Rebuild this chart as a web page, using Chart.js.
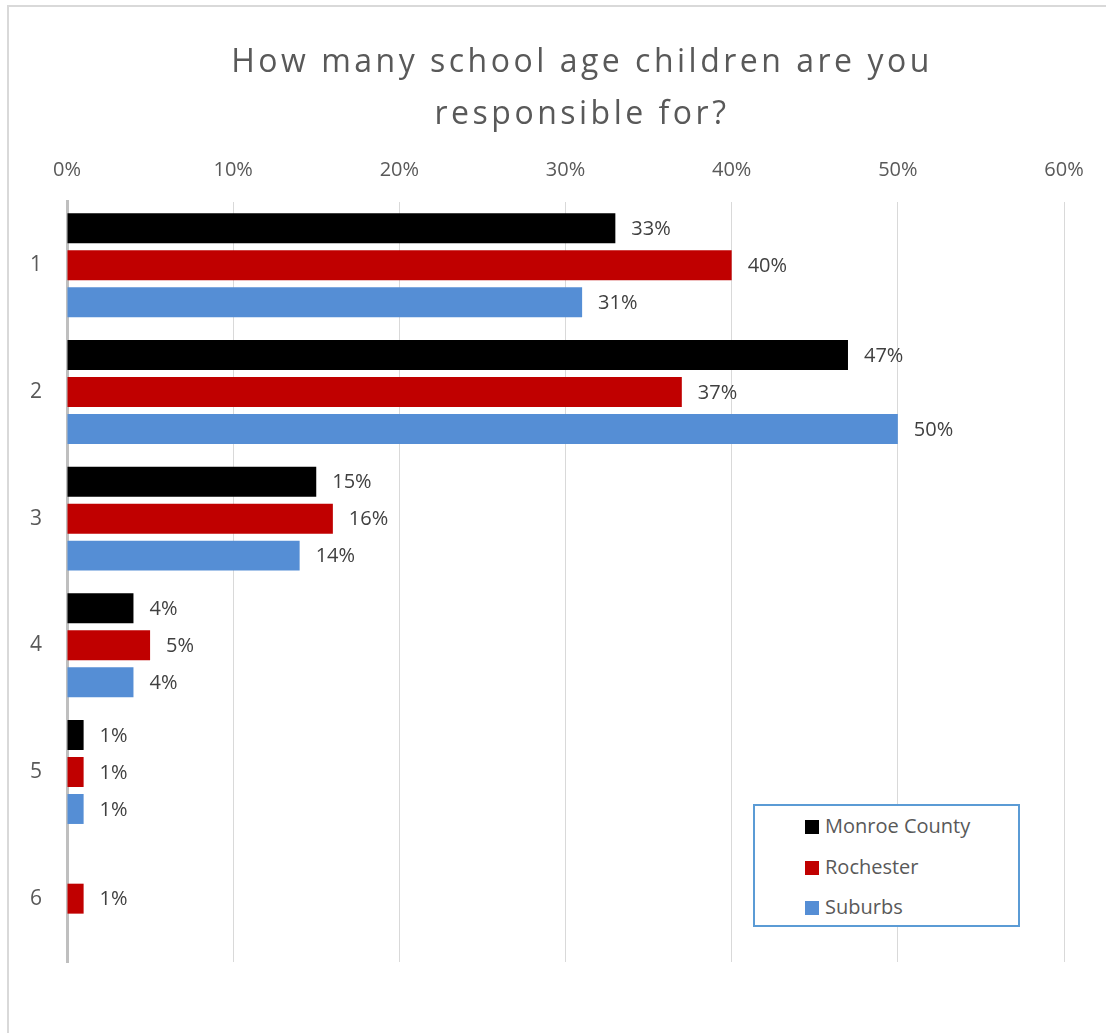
<!DOCTYPE html>
<html>
<head>
<meta charset="utf-8">
<script src="https://cdn.jsdelivr.net/npm/chart.js@4/dist/chart.umd.min.js"></script>
<style>
  html, body { margin: 0; padding: 0; background: #fff; overflow: hidden; }
  body { width: 1106px; height: 1033px; position: relative; font-family: 'Open Sans', sans-serif; }
  #frame { position: absolute; left: 7px; top: 5px; width: 1200px; height: 1100px;
           border-left: 2px solid #d9d9d9; border-top: 2px solid #d9d9d9; }
  #wrap { position: absolute; left: 0; top: 0; width: 1160px; height: 1033px; }
  #legend { position: absolute; left: 753px; top: 804px; width: 263px; height: 119px;
            border: 2px solid #5b9bd5; background: #fff; }
  #legend div { position: absolute; left: 50px; height: 24px; line-height: 24px;
                font-size: 20px; color: #595959; white-space: nowrap; }
  #legend span { display: inline-block; width: 14px; height: 14px; margin-right: 6px;
                 vertical-align: -1px; }
</style>
</head>
<body>
<div id="frame"></div>
<div id="wrap"><canvas id="kidsChart"></canvas></div>
<div id="legend"></div>
<script>
// survey answers, share of respondents (%)
const categories = ['1', '2', '3', '4', '5', '6'];
const seriesNames = ['Monroe County', 'Rochester', 'Suburbs'];
const monroeCounty = [33, 47, 15, 4, 1, null];
const rochester = [40, 37, 16, 5, 1, 1];
const suburbs = [31, 50, 14, 4, 1, null];
const tickLabels = ['0%', '10%', '20%', '30%', '40%', '50%', '60%'];
const titleLines = ['How many school age children are you', 'responsible for?'];
const colors = ['#000000', '#c00000', '#558ed5'];

const textColor = '#595959';
const font = "'Open Sans', sans-serif";

// draws the value next to the end of each bar
const barLabels = {
    id: 'barLabels',
    afterDatasetsDraw(chart) {
        const ctx = chart.ctx;
        ctx.save();
        ctx.font = '20px ' + font;
        ctx.fillStyle = '#404040';
        ctx.textAlign = 'left';
        ctx.textBaseline = 'middle';
        chart.data.datasets.forEach((ds, i) => {
            chart.getDatasetMeta(i).data.forEach((bar, j) => {
                if (ds.data[j] == null) return;
                ctx.fillText(ds.data[j] + '%', bar.x + 16, bar.y + 1);
            });
        });
        ctx.restore();
    }
};

// the built-in title only keeps the space, this one draws it with wider letter spacing
const spacedTitle = {
    id: 'spacedTitle',
    afterDraw(chart) {
        const ctx = chart.ctx;
        const tb = chart.titleBlock;
        const lh = 52;
        ctx.save();
        ctx.font = '32px ' + font;
        ctx.fillStyle = textColor;
        ctx.textAlign = 'center';
        ctx.textBaseline = 'middle';
        ctx.letterSpacing = '3.5px';
        titleLines.forEach((line, i) => {
            ctx.fillText(line, chart.width / 2 + 2, tb.top + 37 + lh / 2 + i * lh);
        });
        ctx.restore();
    }
};

function drawChart() {
    const ctx = document.getElementById('kidsChart').getContext('2d');
    const values = [monroeCounty, rochester, suburbs];

    new Chart(ctx, {
        type: 'bar',
        data: {
            labels: categories,
            datasets: seriesNames.map((name, i) => ({
                label: name,
                data: values[i],
                backgroundColor: colors[i],
                borderWidth: 0,
                categoryPercentage: 0.876,
                barPercentage: 0.81,
            })),
        },
        options: {
            indexAxis: 'y',
            responsive: false,
            animation: false,
            layout: { padding: { top: 0, left: 0, right: 96, bottom: 71 } },
            plugins: {
                legend: { display: false },
                tooltip: { enabled: false },
                title: {
                    display: true,
                    text: titleLines,
                    color: 'rgba(0,0,0,0)',
                    font: { family: font, size: 31, weight: 'normal', lineHeight: 1.677 },
                    padding: { top: 37, bottom: 0 },
                },
            },
            scales: {
                x: {
                    position: 'top',
                    min: 0,
                    max: 60,
                    ticks: {
                        stepSize: 10,
                        padding: 20,
                        color: textColor,
                        font: { family: font, size: 20 },
                        callback: (v, i) => tickLabels[i],
                    },
                    grid: { color: '#d9d9d9', lineWidth: 1, drawTicks: false },
                    border: { display: false },
                    afterFit: (scale) => { scale.height = 61; },
                },
                y: {
                    ticks: {
                        padding: 25,
                        color: textColor,
                        font: { family: font, size: 21 },
                    },
                    grid: { display: false, drawTicks: false },
                    border: { display: true, color: '#bfbfbf', width: 3 },
                    afterFit: (scale) => { scale.width = 67; },
                },
            },
        },
        plugins: [barLabels, spacedTitle],
    });

    // legend box built from the series names and colours
    const legend = document.getElementById('legend');
    seriesNames.forEach((name, i) => {
        const item = document.createElement('div');
        item.style.top = (8 + i * 40.5) + 'px';
        item.innerHTML = '<span style="background:' + colors[i] + '"></span>' + name;
        legend.appendChild(item);
    });
}

const cv = document.getElementById('kidsChart');
cv.width = 1160;
cv.height = 1033;
drawChart();
</script>
</body>
</html>
